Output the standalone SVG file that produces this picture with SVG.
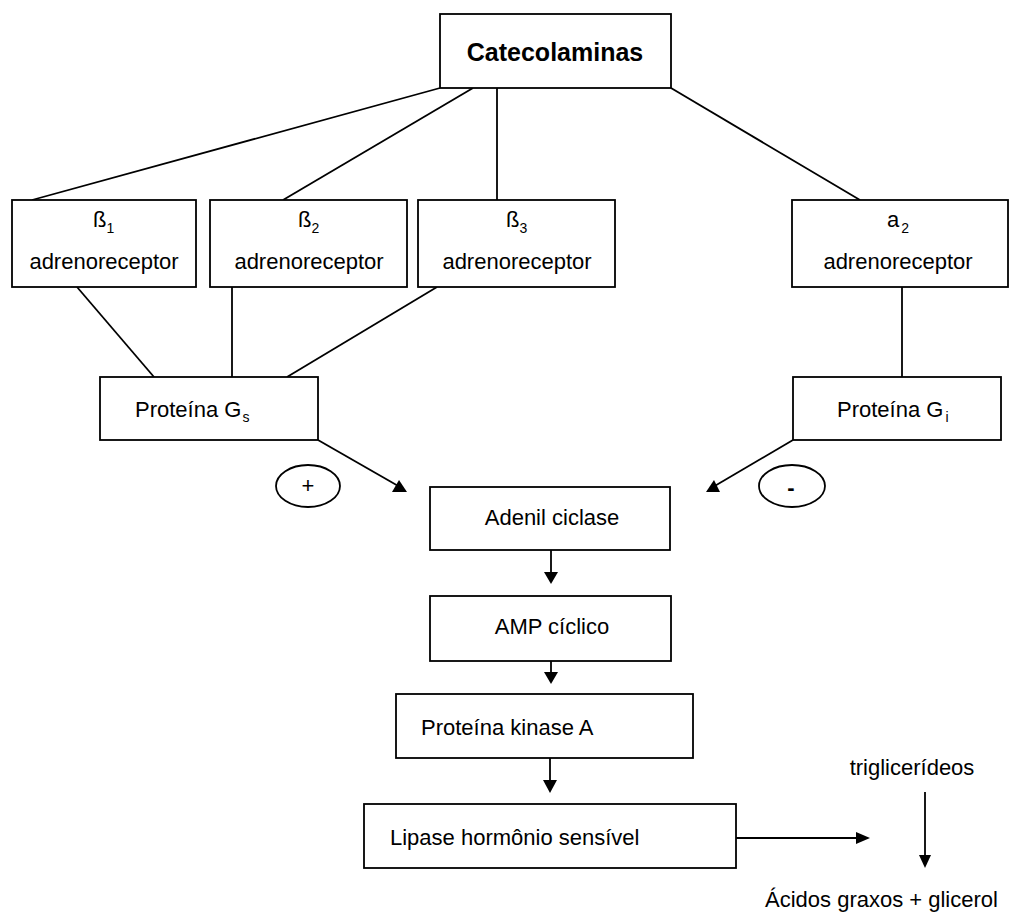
<svg xmlns="http://www.w3.org/2000/svg" width="1011" height="919" viewBox="0 0 1011 919">
<style>
.box{fill:#fff;stroke:#000;stroke-width:1.8}
.ln{fill:none;stroke:#000;stroke-width:1.8}
.t{font-family:"Liberation Sans",Arial,sans-serif;font-size:22px;fill:#000}
.b{font-weight:bold;font-size:25px}
.sub{font-size:14px}
.head{fill:#000;stroke:none}
</style>
<rect width="1011" height="919" fill="#fff"/>
<g id="connectors">
<line class="ln" x1="440" y1="88" x2="32" y2="200"/>
<line class="ln" x1="473" y1="88" x2="283" y2="200"/>
<line class="ln" x1="497" y1="88" x2="497" y2="200"/>
<line class="ln" x1="671" y1="88" x2="860" y2="200"/>
<line class="ln" x1="77" y1="287" x2="154" y2="377"/>
<line class="ln" x1="232" y1="287" x2="232" y2="377"/>
<line class="ln" x1="437" y1="287" x2="287" y2="377"/>
<line class="ln" x1="902" y1="287" x2="902" y2="377"/>
<line class="ln" x1="318" y1="440" x2="400" y2="487"/>
<polygon class="head" points="392,492 407,492 399,480"/>
<line class="ln" x1="793" y1="440" x2="713" y2="487"/>
<polygon class="head" points="706,492 720,492 714,480"/>
<line class="ln" x1="551" y1="550" x2="551" y2="574"/>
<polygon class="head" points="544,572 558,572 551,584"/>
<line class="ln" x1="551" y1="661" x2="551" y2="674"/>
<polygon class="head" points="544,672 558,672 551,684"/>
<line class="ln" x1="550" y1="758" x2="550" y2="782"/>
<polygon class="head" points="543,780 557,780 550,793"/>
<line class="ln" x1="736" y1="838" x2="858" y2="838"/>
<polygon class="head" points="856,832 856,844 870,838"/>
<line class="ln" x1="925" y1="792" x2="925" y2="857"/>
<polygon class="head" points="919,855 931,855 925,868"/>
</g>
<g id="catecolaminas">
<rect class="box" x="440" y="14" width="231" height="74"/>
<text class="t b" x="555" y="61" text-anchor="middle">Catecolaminas</text>
</g>
<g id="beta1">
<rect class="box" x="12" y="200" width="184" height="87"/>
<text class="t" x="93" y="227">ß<tspan class="sub" dy="6">1</tspan></text>
<text class="t" x="104" y="269" text-anchor="middle">adrenoreceptor</text>
</g>
<g id="beta2">
<rect class="box" x="210" y="200" width="197" height="87"/>
<text class="t" x="298" y="227">ß<tspan class="sub" dy="6">2</tspan></text>
<text class="t" x="309" y="269" text-anchor="middle">adrenoreceptor</text>
</g>
<g id="beta3">
<rect class="box" x="418" y="200" width="197" height="87"/>
<text class="t" x="506" y="227">ß<tspan class="sub" dy="6">3</tspan></text>
<text class="t" x="517" y="269" text-anchor="middle">adrenoreceptor</text>
</g>
<g id="alpha2">
<rect class="box" x="792" y="200" width="216" height="87"/>
<text class="t" x="887" y="227">a<tspan class="sub" dx="2" dy="6">2</tspan></text>
<text class="t" x="898" y="269" text-anchor="middle">adrenoreceptor</text>
</g>
<g id="proteina-gs">
<rect class="box" x="100" y="377" width="218" height="63"/>
<text class="t" x="135" y="417">Proteína G<tspan class="sub" dx="1" dy="5">s</tspan></text>
</g>
<g id="proteina-gi">
<rect class="box" x="793" y="377" width="208" height="63"/>
<text class="t" x="837" y="417">Proteína G<tspan class="sub" dx="2" dy="5">i</tspan></text>
</g>
<g id="plus">
<ellipse class="box" cx="308" cy="486" rx="32" ry="21"/>
<text class="t" x="308" y="493" text-anchor="middle" font-size="18">+</text>
</g>
<g id="minus">
<ellipse class="box" cx="792" cy="486" rx="33" ry="21"/>
<text class="t" x="791" y="495" text-anchor="middle" font-weight="bold" font-size="24">-</text>
</g>
<g id="adenil-ciclase">
<rect class="box" x="430" y="487" width="240" height="63"/>
<text class="t" x="552" y="525" text-anchor="middle">Adenil ciclase</text>
</g>
<g id="amp-ciclico">
<rect class="box" x="430" y="596" width="241" height="65"/>
<text class="t" x="552" y="634" text-anchor="middle">AMP cíclico</text>
</g>
<g id="proteina-kinase-a">
<rect class="box" x="396" y="694" width="297" height="64"/>
<text class="t" x="421" y="735">Proteína kinase A</text>
</g>
<g id="lipase">
<rect class="box" x="364" y="804" width="372" height="64"/>
<text class="t" x="390" y="845">Lipase hormônio sensível</text>
</g>
<g id="trigliceridios">
<text class="t" x="912" y="775" text-anchor="middle">triglicerídeos</text>
</g>
<g id="acidos-graxos">
<text class="t" x="765" y="907">Ácidos graxos + glicerol</text>
</g>
</svg>
